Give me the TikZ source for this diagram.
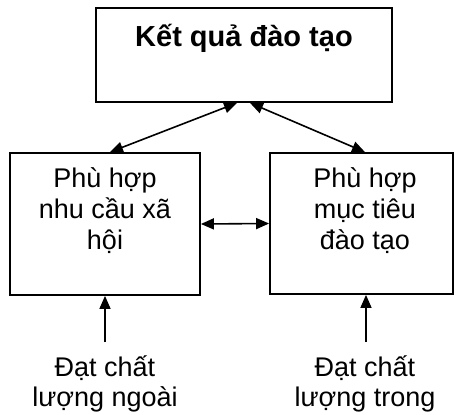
\documentclass[tikz,border=0pt]{standalone}
\usepackage{fontspec}
\setmainfont{Liberation Sans}
\usetikzlibrary{arrows.meta,calc}
\begin{document}
\begin{tikzpicture}[x=1pt,y=-1pt,
  box/.style={draw,line width=1.8pt,rectangle,inner sep=0pt},
  txt/.style={inner sep=0pt,anchor=base,font=\fontsize{27}{31}\selectfont},
  ttl/.style={inner sep=0pt,anchor=base,font=\fontsize{29}{33}\selectfont\bfseries},
  link/.style={line width=1.6pt,-{Triangle[length=13pt,width=11pt]}},
  dlink/.style={line width=1.6pt,{Triangle[length=13pt,width=11pt]}-{Triangle[length=13pt,width=11pt]}}]
\useasboundingbox (0,0) rectangle (456,415);
\node[box,minimum width=296pt,minimum height=94pt] (top) at (244,55) {};
\node[box,minimum width=190pt,minimum height=142pt] (left) at (105,224) {};
\node[box,minimum width=183pt,minimum height=141pt] (right) at (361.5,223.5) {};
\node[ttl] (title) at (244,46) {Kết quả đào tạo};
\node[txt] (l1) at (105,187) {Phù hợp};
\node[txt] (l2) at (105,218) {nhu cầu xã};
\node[txt] (l3) at (105,249) {hội};
\node[txt] (r1) at (365,187) {Phù hợp};
\node[txt] (r2) at (365,218) {mục tiêu};
\node[txt] (r3) at (365,249) {đào tạo};
\node[txt] (bl1) at (105,376) {Đạt chất};
\node[txt] (bl2) at (105,406) {lượng ngoài};
\node[txt] (br1) at (365,376) {Đạt chất};
\node[txt] (br2) at (365,406) {lượng trong};
\coordinate (bla) at (105,342);
\coordinate (bra) at (366,342);
\draw[dlink] ($(top.south)+(-7,0)$) -- ($(left.north)+(5,0)$);
\draw[dlink] ($(top.south)+(6,0)$) -- ($(right.north)+(3.5,0)$);
\draw[dlink] (left.east) -- (right.west);
\draw[link] (bla) -- (bla |- left.south);
\draw[link] (bra) -- (bra |- right.south);
\end{tikzpicture}
\end{document}
